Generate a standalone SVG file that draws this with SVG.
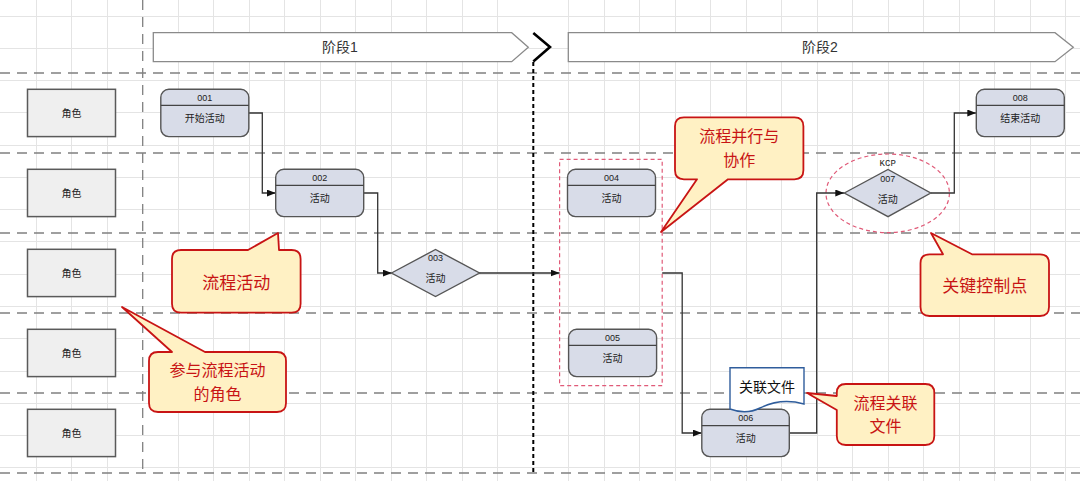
<svg xmlns="http://www.w3.org/2000/svg" width="1080" height="481" viewBox="0 0 1080 481">
<style>
text{font-family:"Liberation Sans","Noto Sans CJK SC",sans-serif;text-anchor:middle;}
.grid{stroke:#e4e4e4;stroke-width:1;fill:none;}
.lane{stroke:#808080;stroke-width:1.3;stroke-dasharray:10 7;fill:none;}
.phase{fill:#fff;stroke:#8a8a8a;stroke-width:1.3;}
.ptxt{font-size:14px;fill:#333;}
.role{fill:#efefef;stroke:#5a5a5a;stroke-width:1.5;}
.rtxt{font-size:10px;fill:#222;}
.node{fill:#d8dce8;stroke:#555;stroke-width:1.4;}
.hdr{stroke:#444;stroke-width:1.2;}
.id{font-size:9px;fill:#222;}
.ntxt{font-size:10px;fill:#222;}
.conn{fill:none;stroke:#333;stroke-width:1.3;}
.pink{fill:none;stroke:#e05a78;stroke-width:1.2;stroke-dasharray:4 3;}
.callout{fill:#fff1c4;stroke:#c81414;stroke-width:1.8;stroke-linejoin:round;}
.ctxt{font-size:17px;fill:#c81414;font-family:"Noto Sans CJK SC",sans-serif;}
.ctxt2{font-size:16px;fill:#c81414;font-family:"Noto Sans CJK SC",sans-serif;}
</style>
<defs>
<marker id="arr" markerUnits="userSpaceOnUse" markerWidth="9" markerHeight="7" refX="9" refY="3.5" orient="auto">
<path d="M0,0 L9,3.5 L0,7 Z" fill="#111"/>
</marker>
</defs>
<rect width="1080" height="481" fill="#fff"/>
<path class="grid" d="M36.5,0V481M71.5,0V481M107.5,0V481M178.5,0V481M213.5,0V481M249.5,0V481M284.5,0V481M320.5,0V481M355.5,0V481M391.5,0V481M426.5,0V481M462.5,0V481M497.5,0V481M568.5,0V481M604.5,0V481M639.5,0V481M675.5,0V481M710.5,0V481M746.5,0V481M781.5,0V481M817.5,0V481M852.5,0V481M888.5,0V481M923.5,0V481M959.5,0V481M994.5,0V481M1030.5,0V481M1065.5,0V481M0,16.5H1080M0,48.5H1080M0,80.5H1080M0,112.5H1080M0,145.5H1080M0,177.5H1080M0,209.5H1080M0,241.5H1080M0,274.5H1080M0,306.5H1080M0,338.5H1080M0,371.5H1080M0,403.5H1080M0,435.5H1080M0,467.5H1080"/>
<g id="lanes">
<path class="lane" d="M0,73H1080M0,153H1080M0,233H1080M0,313H1080M0,393H1080M0,473H1080"/>
<path class="lane" d="M142.7,0V473"/>
</g>
<g id="phase1">
<path class="phase" d="M153.3,32.7H511.7L528.3,47.2L511.7,61.7H153.3Z"/>
<text class="ptxt" x="340" y="52">阶段1</text>
</g>
<g id="phase2">
<path class="phase" d="M568.3,32.7H1055L1073.3,47.2L1055,61.7H568.3Z"/>
<text class="ptxt" x="820" y="52">阶段2</text>
</g>
<g id="phase-divider">
<path d="M533.3,33L550,47L533.3,61.5" fill="none" stroke="#000" stroke-width="2.6"/>
<path d="M533.3,62V473" fill="none" stroke="#000" stroke-width="2" stroke-dasharray="4 3"/>
</g>
<g id="roles">
<g id="role1"><rect class="role" x="27.5" y="89.3" width="88" height="47.3"/><text class="rtxt" x="71.5" y="116.5">角色</text></g>
<g id="role2"><rect class="role" x="27.5" y="169.3" width="88" height="47.3"/><text class="rtxt" x="71.5" y="196.5">角色</text></g>
<g id="role3"><rect class="role" x="27.5" y="249.3" width="88" height="47.3"/><text class="rtxt" x="71.5" y="276.5">角色</text></g>
<g id="role4"><rect class="role" x="27.5" y="329.3" width="88" height="47.3"/><text class="rtxt" x="71.5" y="356.5">角色</text></g>
<g id="role5"><rect class="role" x="27.5" y="409.3" width="88" height="47.3"/><text class="rtxt" x="71.5" y="436.5">角色</text></g>
</g>
<g id="parallel-group"><rect class="pink" x="559.6" y="159.3" width="102.6" height="226.4"/></g>
<g id="kcp-ring"><ellipse class="pink" cx="887.7" cy="193.3" rx="61.7" ry="39.3"/></g>
<g id="connectors">
<path class="conn" d="M248.8,113H262.3V193H275.7" marker-end="url(#arr)"/>
<path class="conn" d="M364,193H377.7V273H391.7" marker-end="url(#arr)"/>
<path class="conn" d="M479,273H559.6" marker-end="url(#arr)"/>
<path class="conn" d="M662.2,273H682.2V433H701.8" marker-end="url(#arr)"/>
<path class="conn" d="M789,433H816.7V193H844.3" marker-end="url(#arr)"/>
<path class="conn" d="M930.7,193H954.3V113H976.3" marker-end="url(#arr)"/>
</g>
<g id="n001" transform="translate(160.8,89.3)">
<rect class="node" width="88" height="47.3" rx="8"/><path class="hdr" d="M0,16H88"/>
<text class="id" x="44" y="11.5">001</text><text class="ntxt" x="44" y="32.5">开始活动</text>
</g>
<g id="n002" transform="translate(275.7,169.3)">
<rect class="node" width="88" height="47.3" rx="8"/><path class="hdr" d="M0,16H88"/>
<text class="id" x="44" y="11.5">002</text><text class="ntxt" x="44" y="32.5">活动</text>
</g>
<g id="n003">
<path class="node" d="M391.5,273L435.5,249.5L479.5,273L435.5,296.5Z"/>
<text class="id" x="435.5" y="261">003</text><text class="ntxt" x="435.5" y="281.5">活动</text>
</g>
<g id="n004" transform="translate(567.5,169.3)">
<rect class="node" width="88" height="47.3" rx="8"/><path class="hdr" d="M0,16H88"/>
<text class="id" x="44" y="11.5">004</text><text class="ntxt" x="44" y="32.5">活动</text>
</g>
<g id="n005" transform="translate(568.6,329.3)">
<rect class="node" width="88" height="47.3" rx="8"/><path class="hdr" d="M0,16H88"/>
<text class="id" x="44" y="11.5">005</text><text class="ntxt" x="44" y="32.5">活动</text>
</g>
<g id="n006" transform="translate(701.8,409.3)">
<rect class="node" width="87.5" height="47.3" rx="8"/><path class="hdr" d="M0,16.4H87.5"/>
<text class="id" x="44" y="11.5">006</text><text class="ntxt" x="44" y="32.5">活动</text>
</g>
<g id="n007">
<path class="node" d="M844.3,193L888,169.5L930.7,193L888,216.7Z"/>
<text x="887.7" y="166" style="font-family:'Liberation Mono',monospace;font-size:9px;fill:#222">KCP</text>
<text class="id" x="887.7" y="181.5">007</text><text class="ntxt" x="887.7" y="203">活动</text>
</g>
<g id="n008" transform="translate(976.3,89.3)">
<rect class="node" width="88" height="47.3" rx="8"/><path class="hdr" d="M0,16H88"/>
<text class="id" x="44" y="11.5">008</text><text class="ntxt" x="44" y="32.5">结束活动</text>
</g>
<g id="doc">
<path d="M730,367.7H804V404C786,399 772,402 760,408C748,414 738,412 730,409Z" fill="#fff" stroke="#2f5d9c" stroke-width="1.4"/>
<text x="767" y="392" style="font-family:'Noto Sans CJK SC',sans-serif;font-size:14px;fill:#111">关联文件</text>
</g>
<g id="callout-activity">
<path class="callout" d="M181,250H248L278,233L279,250H291.6Q300.6,250 300.6,259V303.7Q300.6,312.7 291.6,312.7H181Q172,312.7 172,303.7V259Q172,250 181,250Z"/>
<text class="ctxt" x="236.3" y="288.5">流程活动</text>
</g>
<g id="callout-role">
<path class="callout" d="M158,352H172L122,307L205,352H277Q286,352 286,361V403Q286,412 277,412H158Q149,412 149,403V361Q149,352 158,352Z"/>
<text class="ctxt2" x="217.5" y="376.3">参与流程活动</text>
<text class="ctxt2" x="217.5" y="399.6">的角色</text>
</g>
<g id="callout-parallel">
<path class="callout" d="M684,117.3H794.4Q803.4,117.3 803.4,126.3V170.3Q803.4,179.3 794.4,179.3H728L661,232L697,179.3H684Q675,179.3 675,170.3V126.3Q675,117.3 684,117.3Z"/>
<text class="ctxt2" x="739.2" y="142.2">流程并行与</text>
<text class="ctxt2" x="739.2" y="165.5">协作</text>
</g>
<g id="callout-kcp">
<path class="callout" d="M929.5,254.3H943L931,233L972,254.3H1040Q1049,254.3 1049,263.3V307Q1049,316 1040,316H929.5Q920.5,316 920.5,307V263.3Q920.5,254.3 929.5,254.3Z"/>
<text class="ctxt" x="984.8" y="291.5">关键控制点</text>
</g>
<g id="callout-doc">
<path class="callout" d="M845.8,384H925.3Q934.3,384 934.3,393V436Q934.3,445 925.3,445H845.8Q836.8,445 836.8,436V410L807,393L836.8,396V393Q836.8,384 845.8,384Z"/>
<text class="ctxt2" x="885.5" y="408.5">流程关联</text>
<text class="ctxt2" x="885.5" y="431.8">文件</text>
</g>
</svg>
